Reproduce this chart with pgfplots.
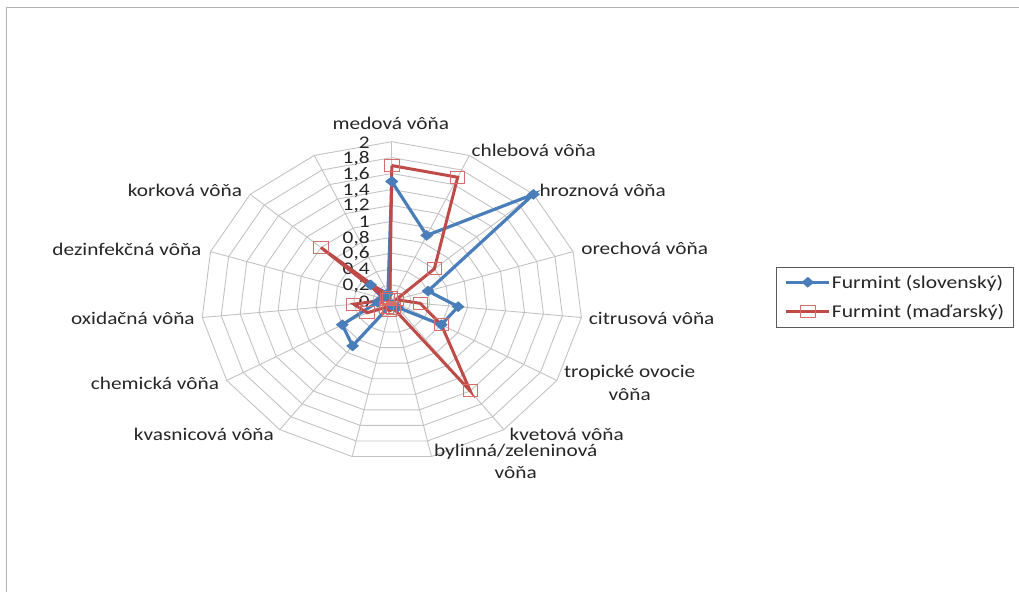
\documentclass[border=0pt]{standalone}
\usepackage{pgfplots}
\pgfplotsset{compat=1.18}
\usepackage{pgfplotstable}
\usepackage{fontspec}
\setmainfont{Carlito}
\usepackage{graphicx}
\newcommand{\sx}[1]{\scalebox{1.197}[1]{#1}}
\definecolor{sblue}{RGB}{74,126,187}
\definecolor{sred}{RGB}{190,75,72}
\definecolor{mred}{RGB}{215,110,108}
\definecolor{gridc}{RGB}{195,195,195}
\pgfplotstableread{
k v
0 1.5
1 0.9
2 2.0
3 0.4
4 0.7
5 0.6
6 0.1
7 0.05
8 0.05
9 0.7
10 0.6
11 0.15
12 0.1
13 0.3
14 0.1
15 1.5
}\slov
\pgfplotstableread{
k v
0 1.7
1 1.7
2 0.6
3 0.05
4 0.3
5 0.6
6 1.4
7 0.1
8 0.13
9 0.1
10 0.3
11 0.4
12 0.05
13 1.0
14 0.05
15 1.7
}\madar
\begin{document}
\begin{tikzpicture}[x=1pt,y=1pt]
\path (0,0) rectangle (1019,592);
\draw[gray!60, line width=1pt] (7,0) -- (7,584) -- (1019,584);
% web grid
\foreach \r in {1,...,10}
  \draw[gridc, line width=0.9pt] plot[samples at={0,24,...,360}] ({392+\r*19.07*sin(\x)},{291+\r*15.925*cos(\x)});
\foreach \a in {0,24,...,336}
  \draw[gridc, line width=0.9pt] (392,291) -- ({392+190.7*sin(\a)},{291+159.25*cos(\a)});
% category labels
\begin{scope}[every node/.style={font=\fontsize{17.8}{21}\selectfont, text=black!85, inner sep=0pt}]
\node at (391,469) {\sx{medová vôňa}};
\node at (534,442) {\sx{chlebová vôňa}};
\node at (603,402) {\sx{hroznová vôňa}};
\node at (645,343) {\sx{orechová vôňa}};
\node at (652,273) {\sx{citrusová vôňa}};
\node at (630,219) {\sx{tropické ovocie}};
\node at (630,197.5) {\sx{vôňa}};
\node at (567,157) {\sx{kvetová vôňa}};
\node at (516,140) {\sx{bylinná/zeleninová}};
\node at (516,119) {\sx{vôňa}};
\node at (204,157) {\sx{kvasnicová vôňa}};
\node at (155,208) {\sx{chemická vôňa}};
\node at (133,273) {\sx{oxidačná vôňa}};
\node at (127,342) {\sx{dezinfekčná vôňa}};
\node at (185,402) {\sx{korková vôňa}};
% radial axis labels
\foreach \v/\t in {0/0,1/{0,2},2/{0,4},3/{0,6},4/{0,8},5/1,6/{1,2},7/{1,4},8/{1,6},9/{1,8},10/2}
  \node[anchor=east] at (370,{290+\v*15.925}) {\sx{\t}};
\end{scope}
\begin{axis}[at={(392pt,291pt)}, anchor=center, scale only axis,
  x=95.35pt, y=79.625pt, xmin=-2.2, xmax=2.2, ymin=-2.2, ymax=2.2,
  axis lines=none, clip=false,
  legend style={at={(1.417,0.598)}, anchor=north west, draw=black!65, line width=0.8pt,
    font=\fontsize{18}{21}\selectfont, text=black!85, inner xsep=8pt, inner ysep=7pt, row sep=13pt,
    nodes={inner sep=1pt}},
  legend cell align=left,
  legend image code/.code={\draw[mark repeat=2,mark phase=2,#1] plot coordinates {(0pt,0pt) (21.5pt,0pt) (43pt,0pt)};}
]
\addplot[sblue, line width=3.2pt, mark=diamond*, mark size=5pt, mark options={xscale=1.6, solid, line width=0.5pt}]
  table[x expr={\thisrow{v}*sin(24*\thisrow{k})}, y expr={\thisrow{v}*cos(24*\thisrow{k})}] {\slov};
\addlegendentry{\sx{Furmint (slovenský)}}
\addplot[sred, line width=3pt, mark=square, mark size=6pt, mark options={xscale=1.2, solid, draw=mred, line width=1pt}]
  table[x expr={\thisrow{v}*sin(24*\thisrow{k})}, y expr={\thisrow{v}*cos(24*\thisrow{k})}] {\madar};
\addlegendentry{\sx{Furmint (maďarský)}}
\end{axis}
\end{tikzpicture}
\end{document}
